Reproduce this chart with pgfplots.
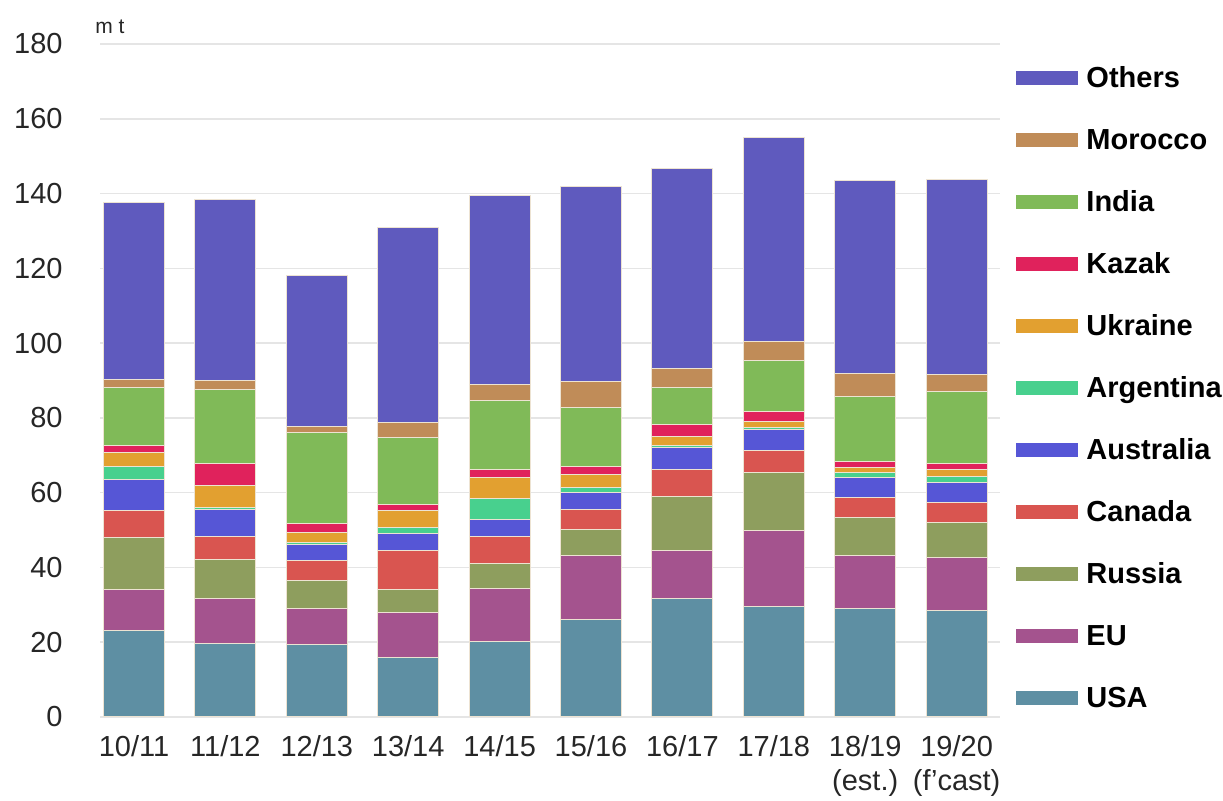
\documentclass[border=0pt]{standalone}
\usepackage{pgfplots}
\usepackage{pgfplotstable}
\pgfplotsset{compat=1.18}
\usepackage{fontspec}
\setmainfont{Liberation Sans}
\definecolor{cUSA}{HTML}{5E8FA3}
\definecolor{cEU}{HTML}{A4538E}
\definecolor{cRussia}{HTML}{8E9E5E}
\definecolor{cCanada}{HTML}{D95550}
\definecolor{cAustralia}{HTML}{5656D6}
\definecolor{cArgentina}{HTML}{48D08E}
\definecolor{cUkraine}{HTML}{E2A030}
\definecolor{cKazak}{HTML}{E0225C}
\definecolor{cIndia}{HTML}{80BA58}
\definecolor{cMorocco}{HTML}{C08C58}
\definecolor{cOthers}{HTML}{5F5ABE}
\definecolor{cEdge}{HTML}{EDE3D2}
\pgfplotstableread{
x USA EU Russia Canada Australia Argentina Ukraine Kazak India Morocco Others
0 23.1 10.9 14.0 7.3 8.3 3.5 3.6 2.0 15.5 2.0 47.4
1 19.7 11.9 10.6 6.0 7.4 0.4 5.8 5.9 20.0 2.3 48.4
2 19.3 9.6 7.5 5.4 4.4 0.5 2.6 2.4 24.3 1.8 40.2
3 16.0 12.0 6.2 10.2 4.7 1.6 4.6 1.6 17.8 4.1 52.1
4 20.2 14.2 6.7 7.1 4.7 5.5 5.6 2.2 18.4 4.3 50.6
5 26.2 16.9 7.1 5.4 4.4 1.3 3.6 2.2 15.6 7.1 52.1
6 31.8 12.8 14.5 7.1 6.0 0.5 2.4 3.1 10.0 5.1 53.4
7 29.5 20.3 15.7 5.8 5.6 0.6 1.4 2.9 13.5 5.1 54.6
8 28.9 14.2 10.2 5.4 5.3 1.3 1.4 1.7 17.4 6.2 51.5
9 28.6 14.1 9.3 5.5 5.2 1.7 1.8 1.6 19.3 4.6 52.1
}\data
\begin{document}
\begin{tikzpicture}
\path[use as bounding box] (-50pt,-42pt) rectangle (561.5pt,358.5pt);
\begin{axis}[
  at={(0pt,0pt)}, anchor=south west,
  scale only axis, width=450pt, height=336.5pt,
  clip=false,
  ybar stacked, bar width=30.5pt,
  xmin=-0.372, xmax=9.475, ymin=0, ymax=180,
  ytick={0,20,...,180},
  xtick={0,...,9},
  xticklabels={10/11,11/12,12/13,13/14,14/15,15/16,16/17,17/18,{18/19\\(est.)},{19/20\\(f'cast)}},
  axis line style={draw=none},
  major tick style={draw=none},
  ymajorgrids, grid style={draw=black!10, line width=0.8pt},
  /pgf/number format/assume math mode=true,
  tick label style={font=\fontsize{14.5}{17}\selectfont, text=black!85},
  yticklabel style={anchor=east, inner sep=0pt, xshift=-18.5pt},
  xticklabel style={anchor=north, inner sep=0pt, align=center, yshift=-9pt},
  every axis plot/.append style={draw=cEdge, line width=0.5pt},
  reverse legend,
  legend cell align=left,
  legend image code/.code={\fill[#1,draw=none] (0pt,-2.6pt) rectangle (31pt,4.4pt);},
  legend style={at={(rel axis cs:1.0178,0.967)}, anchor=north west, draw=none, fill=none,
    inner sep=0pt, row sep=18pt, column sep=4pt,
    font=\bfseries\fontsize{14.5}{17}\selectfont,
    nodes={inner sep=0pt, text height=10.5pt, text depth=2.5pt}},
]
\addplot[fill=cUSA] table[x=x,y=USA]{\data};
\addlegendentry{USA}
\addplot[fill=cEU] table[x=x,y=EU]{\data};
\addlegendentry{EU}
\addplot[fill=cRussia] table[x=x,y=Russia]{\data};
\addlegendentry{Russia}
\addplot[fill=cCanada] table[x=x,y=Canada]{\data};
\addlegendentry{Canada}
\addplot[fill=cAustralia] table[x=x,y=Australia]{\data};
\addlegendentry{Australia}
\addplot[fill=cArgentina] table[x=x,y=Argentina]{\data};
\addlegendentry{Argentina}
\addplot[fill=cUkraine] table[x=x,y=Ukraine]{\data};
\addlegendentry{Ukraine}
\addplot[fill=cKazak] table[x=x,y=Kazak]{\data};
\addlegendentry{Kazak}
\addplot[fill=cIndia] table[x=x,y=India]{\data};
\addlegendentry{India}
\addplot[fill=cMorocco] table[x=x,y=Morocco]{\data};
\addlegendentry{Morocco}
\addplot[fill=cOthers] table[x=x,y=Others]{\data};
\addlegendentry{Others}
\node[anchor=base west, inner sep=0pt, font=\fontsize{10.5}{12}\selectfont, text=black!85] at (rel axis cs:0,1) [xshift=-2.5pt, yshift=5pt] {m t};
\end{axis}
\end{tikzpicture}
\end{document}
